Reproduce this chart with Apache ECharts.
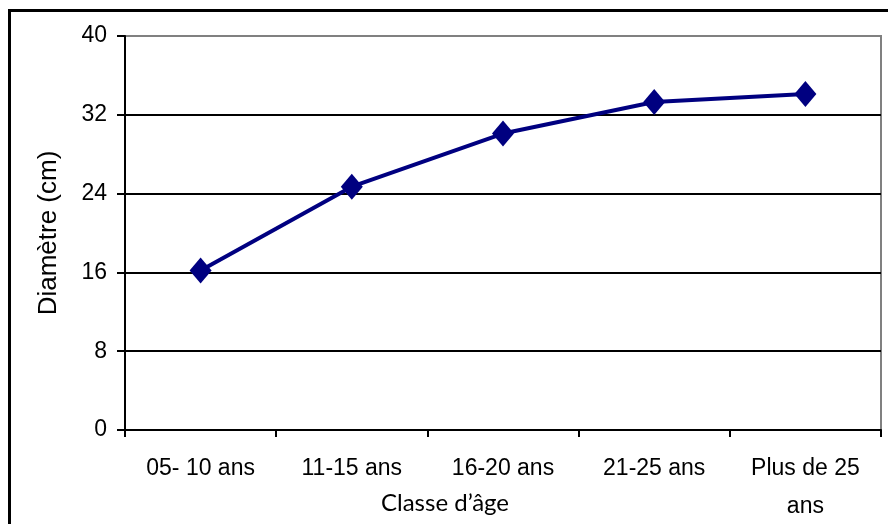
<!DOCTYPE html>
<html>
<head>
<meta charset="utf-8">
<script src="https://cdn.jsdelivr.net/npm/echarts@6/dist/echarts.min.js"></script>
<style>html,body{margin:0;padding:0;background:#fff;}#c{width:888px;height:524px;}</style>
</head>
<body>
<div id="c"></div>
<script>
const categories = ["05- 10 ans", "11-15 ans", "16-20 ans", "21-25 ans", "Plus de 25\nans"];
const diametre = [16.2, 24.7, 30.1, 33.3, 34.1];
const yTicks = { min: 0, max: 40, interval: 8 };
const xName = "Classe d’âge";
const yName = "Diamètre (cm)";

const chart = echarts.init(document.getElementById('c'), null, { renderer: 'canvas' });
chart.setOption({
  animation: false,
  backgroundColor: '#fff',
  graphic: [{
    type: 'rect', z: 100, silent: true,
    shape: { x: 9.5, y: 10.5, width: 900, height: 540 },
    style: { fill: 'none', stroke: '#000', lineWidth: 3 }
  }],
  grid: { left: 125, top: 36, width: 756, height: 394, outerBoundsMode: 'none', containLabel: false, show: true, borderColor: '#808080', borderWidth: 2, backgroundColor: 'transparent' },
  xAxis: {
    type: 'category', data: categories, boundaryGap: true,
    name: xName, nameLocation: 'middle', nameGap: 73, nameMoveOverlap: false,
    nameTextStyle: { fontFamily: 'Lato', fontSize: 24, color: '#000', verticalAlign: 'middle', padding: [0, 116, 0, 0] },
    axisLine: { show: true, lineStyle: { color: '#000', width: 2 } },
    axisTick: { show: true, alignWithLabel: false, length: 7, lineStyle: { color: '#000', width: 2 } },
    axisLabel: { interval: 0, margin: 20, fontFamily: 'Liberation Sans', fontSize: 23, color: '#000', lineHeight: 38 },
    splitLine: { show: false }
  },
  yAxis: {
    type: 'value', min: yTicks.min, max: yTicks.max, interval: yTicks.interval,
    name: yName, nameLocation: 'middle', nameGap: 63, nameRotate: 90, nameMoveOverlap: false,
    nameTextStyle: { fontFamily: 'Liberation Sans', fontSize: 26, color: '#000' },
    axisLine: { show: true, lineStyle: { color: '#000', width: 2 } },
    axisTick: { show: true, length: 8, lineStyle: { color: '#000', width: 2 } },
    axisLabel: { margin: 18, fontFamily: 'Liberation Sans', fontSize: 23, color: '#000' },
    splitLine: { show: true, lineStyle: { color: ['#000', '#000', '#000', '#000', '#000', '#808080'], width: 2 } }
  },
  series: [{
    type: 'line', data: diametre,
    symbol: 'diamond', symbolSize: [22, 26],
    lineStyle: { color: '#000080', width: 4 },
    itemStyle: { color: '#000080' },
    z: 5
  }]
});
</script>
</body>
</html>
